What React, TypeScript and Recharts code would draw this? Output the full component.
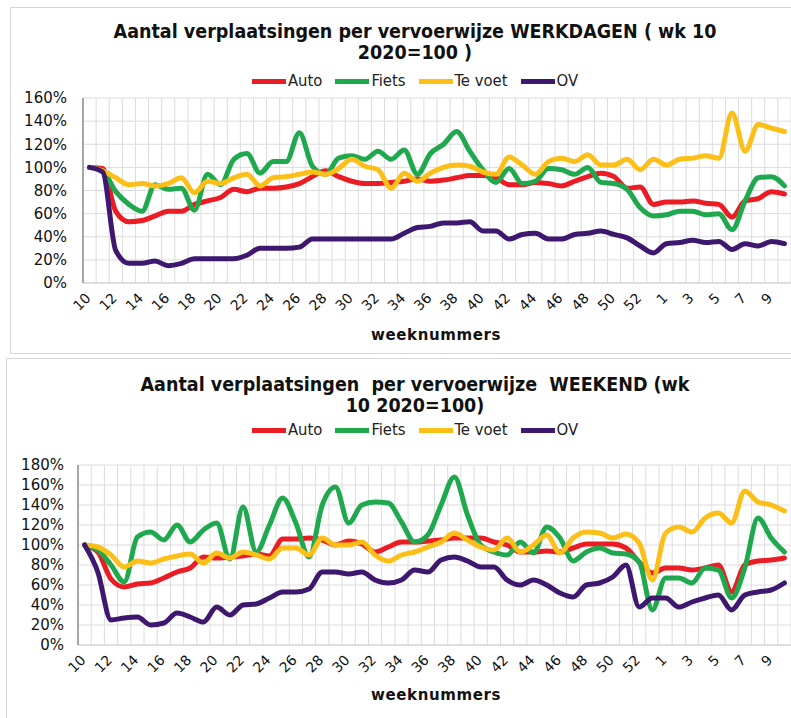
import React from "react";
import { ComposedChart, Line, XAxis, YAxis, CartesianGrid } from "recharts";

// weeks 10..53 of 2020, then 1..10 of 2021
const weeks = [
  "10", "11", "12", "13", "14", "15", "16", "17", "18", "19", "20", "21", "22", "23", "24", "25", "26", "27",
  "28", "29", "30", "31", "32", "33", "34", "35", "36", "37", "38", "39", "40", "41", "42", "43", "44", "45",
  "46", "47", "48", "49", "50", "51", "52", "53", "1", "2", "3", "4", "5", "6", "7", "8", "9", "10",
];

const autoWerk = [
  100, 99, 62, 53, 54, 58, 62, 62, 68, 71, 74, 81, 79, 82, 82, 83, 86, 92,
  97, 92, 88, 86, 86, 87, 88, 90, 88, 89, 91, 93, 93, 91, 85, 85, 87, 86,
  84, 88, 92, 95, 92, 82, 83, 68, 70, 70, 71, 69, 68, 57, 71, 73, 79, 77,
];
const fietsWerk = [
  100, 97, 79, 68, 62, 85, 81, 82, 63, 94, 85, 107, 112, 95, 105, 105, 130, 101,
  94, 108, 110, 107, 114, 107, 115, 94, 112, 120, 131, 114, 98, 87, 99, 86, 88, 99,
  98, 94, 100, 87, 86, 81, 65, 58, 59, 62, 62, 59, 60, 46, 71, 91, 92, 84,
];
const voetWerk = [
  100, 97, 91, 85, 86, 84, 86, 91, 78, 88, 86, 91, 94, 84, 91, 92, 94, 96,
  94, 99, 107, 101, 98, 82, 95, 88, 95, 100, 102, 101, 96, 94, 109, 102, 94, 105,
  108, 105, 111, 102, 102, 107, 98, 107, 102, 107, 108, 110, 108, 147, 114, 137, 134, 131,
];
const ovWerk = [
  100, 96, 28, 17, 17, 19, 15, 17, 21, 21, 21, 21, 24, 30, 30, 30, 31, 38,
  38, 38, 38, 38, 38, 38, 43, 48, 49, 52, 52, 53, 45, 45, 38, 42, 43, 38,
  38, 42, 43, 45, 42, 39, 32, 26, 34, 35, 37, 35, 36, 29, 34, 32, 36, 34,
];

const autoWeekend = [
  100, 93, 66, 58, 61, 62, 67, 73, 77, 88, 87, 88, 89, 91, 89, 106, 106, 107,
  105, 100, 104, 101, 93, 98, 103, 103, 104, 105, 107, 107, 107, 103, 100, 93, 93, 94,
  93, 97, 101, 101, 101, 97, 83, 72, 77, 77, 75, 77, 80, 53, 80, 84, 85, 87,
];
const fietsWeekend = [
  100, 95, 80, 63, 108, 113, 105, 120, 103, 115, 122, 86, 138, 93, 120, 147, 122, 88,
  140, 158, 122, 140, 143, 142, 123, 103, 110, 140, 168, 130, 100, 93, 90, 103, 92, 118,
  107, 84, 93, 97, 92, 91, 83, 35, 67, 67, 62, 77, 75, 47, 77, 127, 107, 93,
];
const voetWeekend = [
  100, 98, 90, 78, 84, 82, 86, 89, 91, 82, 92, 87, 93, 90, 86, 97, 97, 90,
  107, 100, 100, 103, 90, 84, 90, 93, 98, 103, 112, 105, 98, 95, 107, 93, 100, 110,
  92, 107, 113, 112, 107, 111, 102, 65, 112, 118, 113, 127, 132, 122, 154, 143, 140, 134,
];
const ovWeekend = [
  100, 73, 25, 27, 28, 20, 22, 32, 28, 23, 38, 30, 40, 41, 47, 53, 53, 56,
  73, 73, 71, 73, 65, 62, 65, 75, 73, 85, 88, 84, 78, 78, 65, 60, 65, 60,
  52, 48, 60, 62, 68, 80, 38, 47, 47, 38, 43, 47, 50, 35, 50, 53, 55, 62,
];

const ticksWerk = [0, 20, 40, 60, 80, 100, 120, 140, 160];
const ticksWeekend = [0, 20, 40, 60, 80, 100, 120, 140, 160, 180];

const series = [
  { key: "auto", name: "Auto", color: "#ec1c24" },
  { key: "fiets", name: "Fiets", color: "#1fa84d" },
  { key: "voet", name: "Te voet", color: "#fbbf17" },
  { key: "ov", name: "OV", color: "#3e186f" },
];

// idx keeps the categories unique (week 10 appears twice)
const werkData = weeks.map((week, i) => ({
  idx: `${i}`,
  week,
  auto: autoWerk[i],
  fiets: fietsWerk[i],
  voet: voetWerk[i],
  ov: ovWerk[i],
}));

const weekendData = weeks.map((week, i) => ({
  idx: `${i}`,
  week,
  auto: autoWeekend[i],
  fiets: fietsWeekend[i],
  voet: voetWeekend[i],
  ov: ovWeekend[i],
}));

const font = "'DejaVu Sans', Verdana, sans-serif";
const condensed = "'DejaVu Sans Condensed', 'DejaVu Sans', sans-serif";

const WeekTick = (props: any) => {
  const { x, y, payload } = props;
  const label = weeks[Number(payload.value)];
  return (
    <g transform={`translate(${x + 2},${y + 16}) rotate(-45)`}>
      <text x={0} y={0} textAnchor="end" fontSize={14} fontFamily={font} fill="#111">
        {label}
      </text>
    </g>
  );
};

function Legend({ top }: { top: number }) {
  return (
    <div
      style={{
        position: "absolute",
        top,
        left: 39,
        width: 752,
        display: "flex",
        justifyContent: "center",
        gap: 13,
        fontFamily: condensed,
        fontSize: 16.5,
        color: "#222",
        lineHeight: "18px",
      }}
    >
      {series.map((s) => (
        <div key={s.key} style={{ display: "flex", alignItems: "center" }}>
          <span style={{ display: "inline-block", width: 34, height: 5, background: s.color, marginRight: 2 }} />
          {s.name}
        </div>
      ))}
    </div>
  );
}

interface PanelProps {
  data: any[];
  ticks: number[];
  top: number;
  height: number;
  plotTop: number;
  plotHeight: number;
  yWidth: number;
  tickMargin: number;
}

function TrafficChart({ data, ticks, top, height, plotTop, plotHeight, yWidth, tickMargin }: PanelProps) {
  const bottom = height - plotTop - plotHeight - 40;
  return (
    <div style={{ position: "absolute", top, left: 0 }}>
      <ComposedChart width={791} height={height} data={data} margin={{ top: plotTop, right: 0, left: 0, bottom }}>
        <CartesianGrid
          stroke="#dcdcdc"
          strokeWidth={1}
          verticalCoordinatesGenerator={({ offset }: any) =>
            data.map((_, k) => offset.left + ((k + 1) * offset.width) / data.length)
          }
        />
        <XAxis
          dataKey="idx"
          type="category"
          scale="band"
          interval={1}
          height={40}
          tickLine={false}
          tickSize={0}
          tickMargin={0}
          axisLine={{ stroke: "#d0d0d0" }}
          tick={WeekTick}
        />
        <YAxis
          type="number"
          domain={[0, ticks[ticks.length - 1]]}
          ticks={ticks}
          interval={0}
          width={yWidth}
          tickLine={false}
          tickMargin={tickMargin}
          axisLine={{ stroke: "#8a8a8a", strokeWidth: 1.5 }}
          tickFormatter={(v: number) => `${v}%`}
          tick={{ fontSize: 15, fontFamily: font, fill: "#111" }}
        />
        {series.map((s) => (
          <Line
            key={s.key}
            type="monotone"
            dataKey={s.key}
            name={s.name}
            stroke={s.color}
            strokeWidth={5}
            dot={false}
            strokeLinecap="round"
            strokeLinejoin="round"
            isAnimationActive={false}
          />
        ))}
      </ComposedChart>
    </div>
  );
}

const titleStyle: React.CSSProperties = {
  position: "absolute",
  left: 39,
  width: 752,
  textAlign: "center",
  fontFamily: condensed,
  fontWeight: "bold",
  fontSize: 19.5,
  lineHeight: "21px",
  color: "#111",
};

const axisTitle: React.CSSProperties = {
  position: "absolute",
  left: 336,
  width: 200,
  textAlign: "center",
  fontFamily: font,
  fontWeight: "bold",
  fontSize: 15,
  letterSpacing: 0.6,
  color: "#111",
};

export default function App() {
  return (
    <div style={{ position: "absolute", left: 0, top: 0, width: 791, height: 718, overflow: "hidden", background: "#fff" }}>
      <div style={{ position: "absolute", left: 10, top: 7, width: 800, height: 345, border: "1px solid #d6d6d6" }} />
      <div style={{ position: "absolute", left: 6, top: 358, width: 800, height: 380, border: "1px solid #d6d6d6" }} />

      <div style={{ ...titleStyle, top: 21 }}>
        Aantal verplaatsingen per vervoerwijze WERKDAGEN ( wk 10
        <br />
        2020=100 )
      </div>
      <Legend top={72} />
      <TrafficChart data={werkData} ticks={ticksWerk} top={0} height={350} plotTop={98} plotHeight={185} yWidth={83} tickMargin={10} />
      <div style={{ ...axisTitle, top: 326 }}>weeknummers</div>

      <div style={{ ...titleStyle, top: 374 }}>
        Aantal verplaatsingen&nbsp; per vervoerwijze&nbsp; WEEKEND (wk
        <br />
        10 2020=100)
      </div>
      <Legend top={421} />
      <TrafficChart data={weekendData} ticks={ticksWeekend} top={360} height={358} plotTop={105} plotHeight={180} yWidth={78} tickMargin={8} />
      <div style={{ ...axisTitle, top: 686 }}>weeknummers</div>
    </div>
  );
}
